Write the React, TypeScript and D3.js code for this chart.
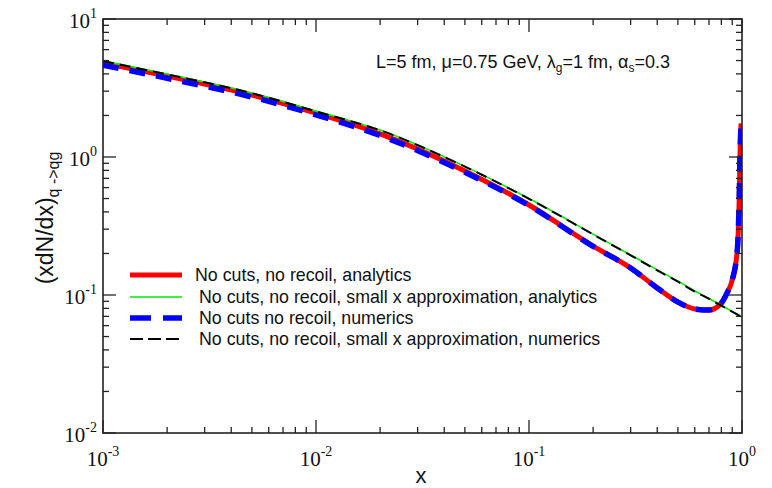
import * as d3 from 'd3';

const W = 772;
const H = 488;
const margin = { top: 19, right: 30, bottom: 55, left: 103 };

// x grid the curves were read at
const xValues = [0.001, 0.002, 0.005, 0.01, 0.02, 0.05, 0.1, 0.2, 0.3, 0.4, 0.5, 0.6, 0.7, 0.8, 0.85, 0.9, 0.95, 0.97, 0.98, 0.99];

// full analytic result (red) and numerics (blue)
const analytics = [4.8, 3.86, 2.81, 2.08, 1.47, 0.792, 0.449, 0.226, 0.157, 0.1125, 0.0889, 0.0792, 0.0778, 0.0875, 0.1033, 0.1285, 0.21, 0.49, 1.12, 1.75];
const numerics = [4.62, 3.72, 2.72, 2.02, 1.43, 0.775, 0.445, 0.225, 0.157, 0.1125, 0.0889, 0.0792, 0.0778, 0.0875, 0.1033, 0.1285, 0.21, 0.49, 1.12, 1.75];

// small x approximation
const smallXGrid = [0.001, 0.002, 0.005, 0.01, 0.02, 0.05, 0.1, 0.2, 0.3, 0.4, 0.5, 0.6, 0.7, 0.8, 1.0];
const smallXAnalytics = [4.97, 3.99, 2.91, 2.15, 1.57, 0.855, 0.5, 0.276, 0.195, 0.152, 0.126, 0.107, 0.0943, 0.0841, 0.0693];
const smallXNumerics = [4.95, 3.97, 2.9, 2.14, 1.56, 0.851, 0.498, 0.275, 0.194, 0.151, 0.125, 0.106, 0.0938, 0.0837, 0.069];

const xTicks = [0.001, 0.01, 0.1, 1];
const xExp = ['-3', '-2', '-1', '0'];
const yTicks = [10, 1, 0.1, 0.01];
const yExp = ['1', '0', '-1', '-2'];

const legendLabels = [
  'No cuts, no recoil, analytics',
  'No cuts, no recoil, small x approximation, analytics',
  'No cuts no recoil, numerics',
  'No cuts, no recoil, small x approximation, numerics',
];

const sans = '"Liberation Sans", Arial, sans-serif';
const serif = '"Liberation Serif", "Times New Roman", serif';

function minorTicks(lo: number, hi: number) {
  const out: number[] = [];
  for (let d = lo; d < hi; d *= 10) {
    for (let k = 2; k <= 9; k++) out.push(d * k);
  }
  return out;
}

export default function App() {
  const x = d3.scaleLog().domain([0.001, 1]).range([margin.left, W - margin.right]);
  const y = d3.scaleLog().domain([0.01, 10]).range([H - margin.bottom, margin.top]);
  const [x0, x1] = x.range();
  const [y1, y0] = y.range();

  const line = d3.line<[number, number]>()
    .x(d => x(d[0]))
    .y(d => y(d[1]))
    .curve(d3.curveMonotoneX);

  const zip = (xs: number[], ys: number[]) => xs.map((v, i) => [v, ys[i]] as [number, number]);

  const series = [
    { d: zip(xValues, analytics), color: '#ff0000', width: 5, dash: undefined as string | undefined, key: '' },
    { d: zip(xValues, numerics), color: '#0000ff', width: 5.5, dash: '16 11', key: '21 12' },
    { d: zip(smallXGrid, smallXAnalytics), color: '#00ee00', width: 1.6, dash: undefined, key: '' },
    { d: zip(smallXGrid, smallXNumerics), color: '#000000', width: 2, dash: '11 6', key: '13 5' },
  ];
  const legendOrder = [0, 2, 1, 3];
  const legendY = [275, 297, 318, 339];

  const majorLen = 13;
  const minorLen = 6;
  const xMinor = minorTicks(0.001, 1);
  const yMinor = minorTicks(0.01, 10);

  return (
    <svg width={W} height={H} style={{ position: 'absolute', left: 0, top: 0, background: '#fff' }}>
      <defs>
        <clipPath id="plot">
          <rect x={x0} y={y0} width={x1 - x0} height={y1 - y0} />
        </clipPath>
      </defs>

      <g clipPath="url(#plot)">
        {series.map((s, i) => (
          <path key={i} d={line(s.d) ?? ''} fill="none" stroke={s.color} strokeWidth={s.width}
            strokeDasharray={s.dash} strokeLinejoin="round" />
        ))}
      </g>

      {/* frame and ticks */}
      <g stroke="#222" strokeWidth={1.3}>
        <rect x={x0} y={y0} width={x1 - x0} height={y1 - y0} fill="none" strokeWidth={1.6} />
        {xTicks.map(t => (
          <g key={'xM' + t}>
            <line x1={x(t)} x2={x(t)} y1={y1} y2={y1 - majorLen} />
            <line x1={x(t)} x2={x(t)} y1={y0} y2={y0 + majorLen} />
          </g>
        ))}
        {xMinor.map(t => (
          <g key={'xm' + t}>
            <line x1={x(t)} x2={x(t)} y1={y1} y2={y1 - minorLen} />
            <line x1={x(t)} x2={x(t)} y1={y0} y2={y0 + minorLen} />
          </g>
        ))}
        {yTicks.map(t => (
          <g key={'yM' + t}>
            <line x1={x0} x2={x0 + majorLen} y1={y(t)} y2={y(t)} />
            <line x1={x1} x2={x1 - majorLen} y1={y(t)} y2={y(t)} />
          </g>
        ))}
        {yMinor.map(t => (
          <g key={'ym' + t}>
            <line x1={x0} x2={x0 + minorLen} y1={y(t)} y2={y(t)} />
            <line x1={x1} x2={x1 - minorLen} y1={y(t)} y2={y(t)} />
          </g>
        ))}
      </g>

      {/* tick labels */}
      <g fontFamily={serif} fill="#111">
        {xTicks.map((t, i) => (
          <text key={'xl' + t} x={x(t)} y={466} textAnchor="middle" fontSize={21}>
            10<tspan fontSize={14} dy={-10}>{xExp[i]}</tspan>
          </text>
        ))}
        {yTicks.map((t, i) => (
          <text key={'yl' + t} x={97} y={y(t) + 9} textAnchor="end" fontSize={21}>
            10<tspan fontSize={14} dy={-10}>{yExp[i]}</tspan>
          </text>
        ))}
      </g>

      {/* axis titles */}
      <text x={421} y={483} textAnchor="middle" fontFamily={sans} fontSize={22} fill="#111">x</text>
      <text transform="translate(53,218) rotate(-90)" textAnchor="middle" fontFamily={sans} fontSize={23} fill="#111">
        (xdN/dx)<tspan fontSize={16} dy={6}>q -&gt;qg</tspan>
      </text>

      {/* annotation */}
      <text x={376} y={68} fontFamily={sans} fontSize={18} fill="#111">
        L=5 fm, μ=0.75 GeV, λ<tspan fontSize={12} dy={4}>g</tspan><tspan dy={-4}>=1 fm, α</tspan>
        <tspan fontSize={12} dy={4}>s</tspan><tspan dy={-4}>=0.3</tspan>
      </text>

      {/* legend */}
      <g fontFamily={sans} fontSize={17.8} fill="#111">
        {legendOrder.map((si, row) => {
          const s = series[si];
          const ly = legendY[row];
          return (
            <g key={row}>
              <line x1={130} x2={182} y1={ly} y2={ly} stroke={s.color} strokeWidth={s.width}
                strokeDasharray={s.key || undefined} />
              <text x={row === 0 ? 195 : 199} y={ly + 6}>{legendLabels[row]}</text>
            </g>
          );
        })}
      </g>
    </svg>
  );
}
